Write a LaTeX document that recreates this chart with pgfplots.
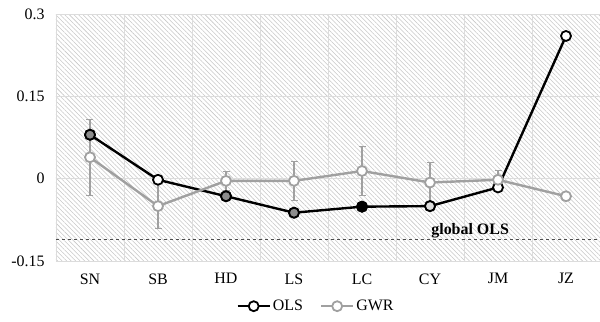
\documentclass[border=0pt]{standalone}
\usepackage{pgfplots}
\pgfplotsset{compat=1.18}
\usepackage{fontspec}
\setmainfont{Liberation Serif}
\usetikzlibrary{patterns.meta}
\definecolor{gwr}{HTML}{A0A0A0}
\definecolor{gridc}{HTML}{DCDCDC}
\begin{document}
\begin{tikzpicture}[x=1bp,y=1bp]
\useasboundingbox (-56,-60) rectangle (544,261);
\begin{axis}[
  at={(0,0)}, anchor=south west,
  scale only axis, width=544bp, height=247bp,
  xmin=-0.5, xmax=7.5, ymin=-0.15, ymax=0.3,
  xtick={0,1,2,3,4,5,6,7},
  xticklabels={SN,SB,HD,LS,LC,CY,JM,JZ},
  minor xtick={0.5,1.5,2.5,3.5,4.5,5.5,6.5},
  xminorgrids, ymajorgrids,
  ytick={-0.15,0,0.15,0.3},
  yticklabels={-0.15,0,0.15,0.3},
  major tick length=0pt, minor tick length=0pt,
  grid style={gridc, line width=0.8pt},
  minor grid style={gridc, line width=0.8pt},
  axis line style={gridc, line width=0.8pt},
  axis background/.style={pattern={Lines[angle=-45,distance=3.2bp,line width=0.55bp]}, pattern color=black!22},
  tick label style={font=\fontsize{16}{18}\selectfont, black},
  xticklabel style={yshift=-9bp},
  yticklabel style={xshift=-8bp},
  legend style={at={(0.478,-0.183)}, anchor=center, draw=none, fill=none,
    legend columns=2, font=\fontsize{16}{18}\selectfont,
    /tikz/every even column/.append style={column sep=15bp}},
  legend image code/.code={
    \draw[#1, mark repeat=2, mark phase=2] plot coordinates {(0bp,0bp) (16bp,0bp) (32bp,0bp)};
  },
  clip=false,
]
% global OLS dashed line
\addplot[forget plot, black!70, dashed, line width=0.9pt] coordinates {(-0.5,-0.11) (7.5,-0.11)};
\node[font=\fontsize{16}{18}\selectfont\bfseries] at (axis cs:5.59,-0.0945) {global OLS};
% GWR error bars
\addplot[forget plot, draw=none, mark=none,
  error bars/.cd, y dir=both, y explicit,
  error bar style={gwr, line width=1.2pt},
  error mark options={gwr, rotate=90, mark size=3.5bp, line width=1.2pt}]
  coordinates {
  (0,0.039) +- (0,0.069)
  (1,-0.050) +- (0,0.041)
  (2,-0.004) +- (0,0.017)
  (3,-0.004) +- (0,0.036)
  (4,0.014) +- (0,0.044)
  (5,-0.007) +- (0,0.037)
  (6,-0.002) +- (0,0.017)
  (7,-0.032) +- (0,0.006)
  };
% OLS
\addplot[black, line width=2.4pt, mark=*, mark size=5bp,
  mark options={fill=white, draw=black, line width=1.8pt}]
  coordinates {(0,0.080) (1,-0.002) (2,-0.032) (3,-0.062) (4,-0.051) (5,-0.050) (6,-0.016) (7,0.260)};
\addlegendentry{OLS}
% GWR
\addplot[gwr, line width=2.4pt, mark=*, mark size=5bp,
  mark options={fill=white, draw=gwr, line width=1.8pt}]
  coordinates {(0,0.039) (1,-0.050) (2,-0.004) (3,-0.004) (4,0.014) (5,-0.007) (6,-0.002) (7,-0.032)};
\addlegendentry{GWR}
% OLS filled markers
\addplot[forget plot, only marks, mark=*, mark size=5bp,
  mark options={fill=black!45, draw=black, line width=1.8pt}]
  coordinates {(0,0.080) (2,-0.032) (3,-0.062)};
\addplot[forget plot, only marks, mark=*, mark size=5bp,
  mark options={fill=black, draw=black, line width=1.8pt}]
  coordinates {(4,-0.051)};
\addplot[forget plot, only marks, mark=*, mark size=5bp,
  mark options={fill=black!13, draw=black, line width=1.8pt}]
  coordinates {(5,-0.050)};
\end{axis}
\end{tikzpicture}
\end{document}
